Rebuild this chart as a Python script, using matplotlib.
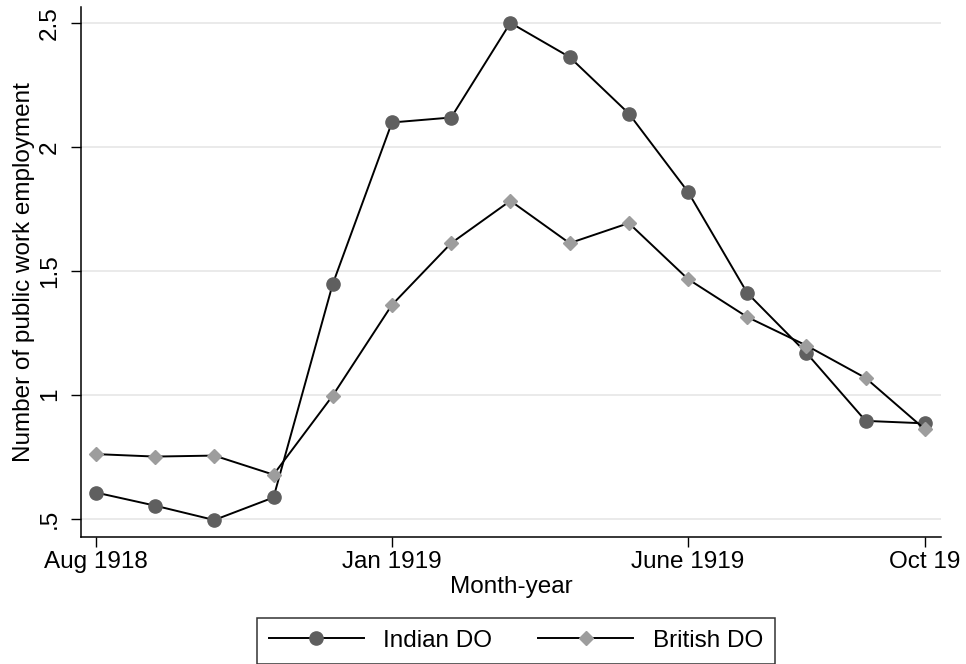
import matplotlib
matplotlib.use("Agg")
import matplotlib.pyplot as plt
import numpy as np

plt.rcParams['font.family'] = ['Liberation Sans', 'DejaVu Sans']

# months Aug 1918 .. Oct 1919
months = ['Aug 1918', 'Sep 1918', 'Oct 1918', 'Nov 1918', 'Dec 1918',
          'Jan 1919', 'Feb 1919', 'Mar 1919', 'Apr 1919', 'May 1919',
          'June 1919', 'July 1919', 'Aug 1919', 'Sep 1919', 'Oct 1919']
indian = [0.605, 0.552, 0.494, 0.585, 1.446, 2.098, 2.118, 2.500,
          2.362, 2.134, 1.818, 1.410, 1.168, 0.894, 0.884]
british = [0.760, 0.750, 0.754, 0.677, 0.996, 1.362, 1.611, 1.782,
           1.611, 1.692, 1.466, 1.313, 1.198, 1.067, 0.860]
xtick_pos = [0, 5, 10, 14]
xtick_labels = ['Aug 1918', 'Jan 1919', 'June 1919', 'Oct 19']
ytick_pos = [0.5, 1, 1.5, 2, 2.5]
ytick_labels = ['.5', '1', '1.5', '2', '2.5']

x = np.arange(len(months))
fs = 17.5

fig = plt.figure(figsize=(9.66, 6.64), dpi=100)
ax = fig.add_axes([0.0839, 0.1913, 0.974 - 0.0839, 0.9895 - 0.1913])

for y in ytick_pos:
    ax.axhline(y, color='#e8e8e8', lw=1.3, zorder=0)

ax.plot(x, indian, color='black', lw=1.4, marker='o', ms=9.5,
        mfc='#5f5f5f', mec='#5f5f5f', label='Indian DO', zorder=2)
ax.plot(x, british, color='black', lw=1.4, marker='D', ms=7.3,
        mfc='#9d9d9d', mec='#9d9d9d', label='British DO', zorder=3)

ax.set_xlim(-0.25, 14.27)
ax.set_ylim(0.4256, 2.564)
ax.set_xticks(xtick_pos)
ax.set_xticklabels(xtick_labels, fontsize=fs)
ax.set_yticks(ytick_pos)
ax.set_yticklabels(ytick_labels, fontsize=fs, rotation=90, va='center')
ax.tick_params(axis='both', length=7, width=1, color='black')
ax.tick_params(axis='y', pad=7.5)
ax.tick_params(axis='x', pad=3)

for s in ['top', 'right']:
    ax.spines[s].set_visible(False)
for s in ['left', 'bottom']:
    ax.spines[s].set_linewidth(1.1)

ax.set_xlabel('Month-year', fontsize=fs, labelpad=2)
ax.set_ylabel('Number of public work employment', fontsize=fs)
ax.yaxis.set_label_coords(-0.054, 0.5)

leg = fig.legend(loc='center', bbox_to_anchor=(0.534, 0.035), ncol=2,
                 fontsize=fs, frameon=True, fancybox=False,
                 handlelength=3.9, columnspacing=1.9, borderpad=0.5,
                 handletextpad=0.8)
leg.get_frame().set_edgecolor('black')
leg.get_frame().set_linewidth(1.1)

fig.savefig('out.png', dpi=100)
